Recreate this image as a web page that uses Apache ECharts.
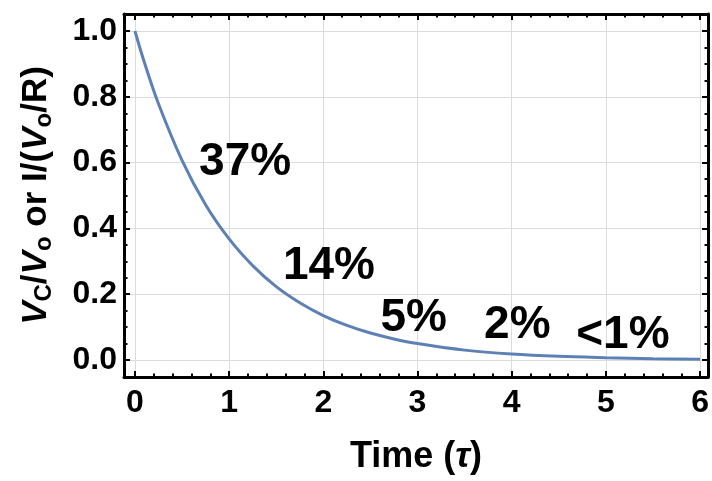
<!DOCTYPE html>
<html>
<head>
<meta charset="utf-8">
<script src="https://cdn.jsdelivr.net/npm/echarts@6/dist/echarts.min.js"></script>
<style>html,body{margin:0;padding:0;background:#fff}#c{width:712px;height:481px}</style>
</head>
<body>
<div id="c"></div>
<script>
// Curve (time in tau, normalized value)
var timeVals = [0, 0.1, 0.25, 0.5, 0.75, 1, 1.25, 1.5, 1.75, 2, 2.25, 2.5, 2.75, 3, 3.5, 4, 4.5, 5, 5.5, 6];
var curveVals = [1.0, 0.905, 0.779, 0.607, 0.472, 0.368, 0.287, 0.223, 0.174, 0.135, 0.105, 0.082, 0.064, 0.050, 0.030, 0.018, 0.011, 0.007, 0.004, 0.0025];

// Annotations
var annoText = ['37%', '14%', '5%', '2%', '<1%'];
var annoX = [1.17, 2.06, 2.96, 4.06, 5.18];
var annoY = [0.60, 0.286, 0.128, 0.106, 0.076];

// Tick values
var xMajor = [0, 1, 2, 3, 4, 5, 6];
var xMinor = [0.2, 0.4, 0.6, 0.8, 1.2, 1.4, 1.6, 1.8, 2.2, 2.4, 2.6, 2.8, 3.2, 3.4, 3.6, 3.8, 4.2, 4.4, 4.6, 4.8, 5.2, 5.4, 5.6, 5.8];
var yMajor = [0, 0.2, 0.4, 0.6, 0.8, 1.0];
var yMinor = [0.05, 0.1, 0.15, 0.25, 0.3, 0.35, 0.45, 0.5, 0.55, 0.65, 0.7, 0.75, 0.85, 0.9, 0.95];

var xMin = -0.116, xMax = 6.084, yMin = -0.0517, yMax = 1.0517;

var FONT = '"Liberation Sans", Arial, sans-serif';

function xAx(pos, custom, len, major) {
  return {
    type: 'value', position: pos, min: xMin, max: xMax,
    axisLine: { show: major, onZero: false, lineStyle: { color: '#000', width: 3 } },
    axisTick: { show: true, inside: true, length: len, customValues: custom, lineStyle: { color: '#000', width: 2 } },
    axisLabel: (major && pos === 'bottom') ? {
      show: true, customValues: xMajor, margin: 10,
      fontFamily: FONT, fontSize: 32, fontWeight: 'bold', color: '#000',
      formatter: function (v) { return String(Math.round(v)); }
    } : { show: false },
    splitLine: { show: major && pos === 'bottom', lineStyle: { color: '#dcdcdc', width: 1 } },
    minorTick: { show: false }
  };
}
function yAx(pos, custom, len, major) {
  return {
    type: 'value', position: pos, min: yMin, max: yMax,
    axisLine: { show: major, onZero: false, lineStyle: { color: '#000', width: 3 } },
    axisTick: { show: true, inside: true, length: len, customValues: custom, lineStyle: { color: '#000', width: 2 } },
    axisLabel: (major && pos === 'left') ? {
      show: true, customValues: yMajor, margin: 7,
      fontFamily: FONT, fontSize: 32, fontWeight: 'bold', color: '#000',
      formatter: function (v) { return v.toFixed(1); }
    } : { show: false },
    splitLine: { show: major && pos === 'left', lineStyle: { color: '#dcdcdc', width: 1 } }
  };
}

var xAxes = [xAx('bottom', xMajor, 6, true), xAx('bottom', xMinor, 3.5, false), xAx('top', xMajor, 6, true), xAx('top', xMinor, 3.5, false)];
var yAxes = [yAx('left', yMajor, 6, true), yAx('left', yMinor, 3.5, false), yAx('right', yMajor, 6, true), yAx('right', yMinor, 3.5, false)];

xAxes[0].name = '{n|Time (}{t|τ}{n|)}';
xAxes[0].nameLocation = 'middle';
xAxes[0].nameGap = 62;
xAxes[0].nameTextStyle = {
  rich: {
    n: { fontFamily: FONT, fontSize: 36, fontWeight: 'bold', color: '#000' },
    t: { fontFamily: FONT, fontSize: 36, fontWeight: 'bold', fontStyle: 'italic', color: '#000' }
  }
};

yAxes[0].name = '{v|V}{s|C}{n|/}{v|V}{s|o}{n| or I/(}{v|V}{s|o}{n|/R)}';
yAxes[0].nameLocation = 'middle';
yAxes[0].nameGap = 68;
yAxes[0].nameTextStyle = {
  rich: {
    n: { fontFamily: FONT, fontSize: 35, fontWeight: 'bold', color: '#000', lineHeight: 40, verticalAlign: 'middle' },
    v: { fontFamily: FONT, fontSize: 35, fontWeight: 'bold', fontStyle: 'italic', color: '#000', lineHeight: 40, verticalAlign: 'middle' },
    s: { fontFamily: FONT, fontSize: 24, fontWeight: 'bold', color: '#000', lineHeight: 28, verticalAlign: 'bottom' }
  }
};

var curveData = timeVals.map(function (t, i) { return [t, curveVals[i]]; });
var annoData = annoText.map(function (s, i) { return { value: [annoX[i], annoY[i]], name: s }; });

var chart = echarts.init(document.getElementById('c'), null, { renderer: 'canvas' });
chart.setOption({
  animation: false,
  backgroundColor: '#fff',
  grid: { left: 124, right: -1, top: 14, bottom: 104, containLabel: false },
  xAxis: xAxes,
  yAxis: yAxes,
  series: [
    {
      type: 'line', xAxisIndex: 0, yAxisIndex: 0, data: curveData,
      showSymbol: false, smooth: 0.35, z: 3,
      lineStyle: { color: '#5E81B5', width: 3 }
    },
    {
      type: 'scatter', xAxisIndex: 0, yAxisIndex: 0, data: annoData,
      symbolSize: 0, z: 4, silent: true,
      itemStyle: { opacity: 1 },
      label: {
        show: true, position: 'inside', formatter: function (p) { return p.name; },
        fontFamily: FONT, fontSize: 46, fontWeight: 'bold', color: '#000', opacity: 1
      }
    }
  ]
});
</script>
</body>
</html>
